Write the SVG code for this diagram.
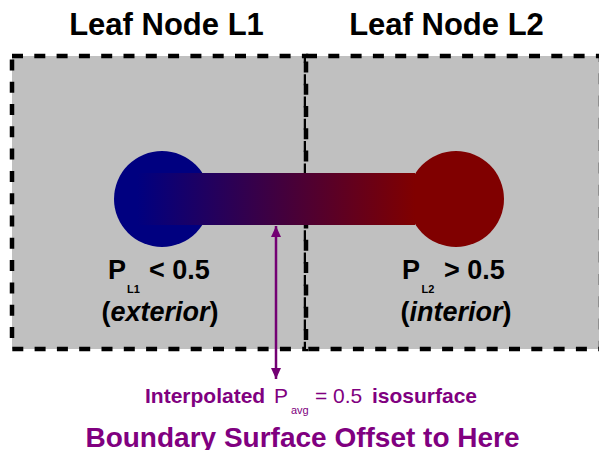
<svg xmlns="http://www.w3.org/2000/svg" width="599" height="450" viewBox="0 0 599 450">
  <style>
    .box { fill: #c0c0c0; stroke: #000; stroke-width: 4.5; stroke-dasharray: 11 11.3; }
    .title { font-family: "Liberation Sans", Arial, sans-serif; font-weight: bold; font-size: 31px; fill: #000; text-anchor: middle; }
    .lbl { font-family: "Liberation Sans", Arial, sans-serif; font-weight: bold; font-size: 27px; fill: #000; }
    .sub { font-size: 11px; }
    .cap { font-family: "Liberation Sans", Arial, sans-serif; font-size: 21px; fill: #800080; }
    .big { font-family: "Liberation Sans", Arial, sans-serif; font-weight: bold; font-size: 28px; fill: #800080; text-anchor: middle; }
    .conn { stroke: #730073; stroke-width: 2.5; fill: none; }
  </style>
  <defs>
    <linearGradient id="grad" x1="0" y1="0" x2="1" y2="0">
      <stop offset="0" stop-color="#000080"/>
      <stop offset="1" stop-color="#800000"/>
    </linearGradient>
    <marker id="ah" viewBox="0 0 11 10" refX="11" refY="5" markerWidth="11" markerHeight="10" markerUnits="userSpaceOnUse" orient="auto-start-reverse">
      <path d="M0,0 L11,5 L0,10 Z" fill="#730073"/>
    </marker>
  </defs>

  <g id="leaf-l1">
    <rect class="box" x="12" y="56" width="294" height="293"/>
    <text class="title" x="166.5" y="35">Leaf Node L1</text>
  </g>
  <g id="leaf-l2">
    <rect class="box" x="306" y="56" width="295" height="293"/>
    <text class="title" x="446.5" y="35">Leaf Node L2</text>
  </g>

  <g id="sample-l1">
    <circle cx="162" cy="199" r="48" fill="#000080"/>
  </g>
  <g id="sample-l2">
    <circle cx="456" cy="199" r="48" fill="#800000"/>
  </g>
  <g id="interpolation-bar">
    <rect x="137" y="173" width="278" height="52" fill="url(#grad)"/>
  </g>

  <g id="label-l1">
    <text class="lbl" y="279"><tspan x="108">P</tspan><tspan class="sub" x="127" y="293">L1</tspan><tspan x="149" y="279">&lt; 0.5</tspan></text>
    <text class="lbl" x="160" y="321" text-anchor="middle">(<tspan font-style="italic">exterior</tspan>)</text>
  </g>
  <g id="label-l2">
    <text class="lbl" y="279"><tspan x="402">P</tspan><tspan class="sub" x="421.5" y="293">L2</tspan><tspan x="444" y="279">&gt; 0.5</tspan></text>
    <text class="lbl" x="456" y="321" text-anchor="middle">(<tspan font-style="italic">interior</tspan>)</text>
  </g>

  <g id="connectors">
    <line class="conn" x1="276" y1="379" x2="276" y2="226" marker-start="url(#ah)" marker-end="url(#ah)"/>
  </g>

  <g id="captions">
    <text class="cap" y="403"><tspan x="145" font-weight="bold">Interpolated</tspan><tspan x="274">P</tspan><tspan x="291" y="414" font-size="11px">avg</tspan><tspan x="315" y="403">= 0.5</tspan><tspan x="372" font-weight="bold">isosurface</tspan></text>
    <text class="big" x="302.5" y="447">Boundary Surface Offset to Here</text>
  </g>
</svg>
